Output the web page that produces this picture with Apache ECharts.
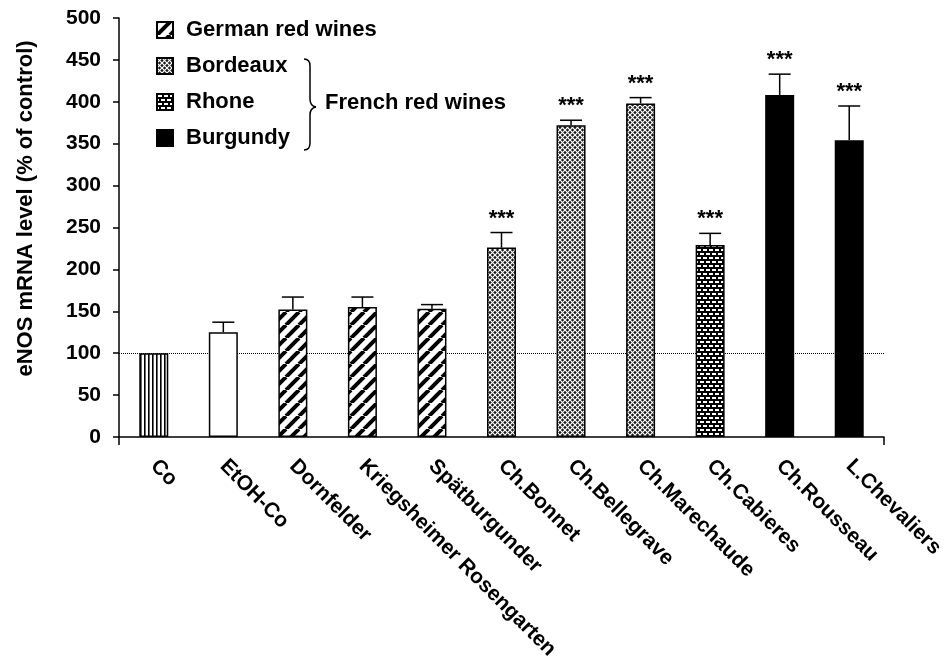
<!DOCTYPE html>
<html>
<head>
<meta charset="utf-8">
<script src="https://cdn.jsdelivr.net/npm/echarts@6/dist/echarts.min.js"></script>
<style>
  html, body { margin: 0; padding: 0; background: #fff; }
  #main { width: 951px; height: 664px; }
</style>
</head>
<body>
<div id="main"></div>
<script>
// data
var categories = ['Co', 'EtOH-Co', 'Dornfelder', 'Kriegsheimer Rosengarten', 'Spätburgunder',
  'Ch.Bonnet', 'Ch.Bellegrave', 'Ch.Marechaude', 'Ch.Cabieres', 'Ch.Rousseau', 'L.Chevaliers'];
var means = [100, 125, 152, 155, 153, 226, 372, 398, 229, 408, 354];
var upper = [100, 137, 167, 167, 158, 244, 378, 405, 243, 433, 395];
var stars = ['', '', '', '', '', '***', '***', '***', '***', '***', '***'];
var groups = ['Control', 'Ethanol', 'German red wines', 'German red wines', 'German red wines',
  'Bordeaux', 'Bordeaux', 'Bordeaux', 'Rhone', 'Burgundy', 'Burgundy'];
var legendNames = ['German red wines', 'Bordeaux', 'Rhone', 'Burgundy'];
var yTicks = { min: 0, max: 500, interval: 50 };

var FONT = '"Liberation Sans", Arial, Helvetica, sans-serif';

// fill patterns
function makePattern(w, h, draw) {
    var c = document.createElement('canvas');
    c.width = w; c.height = h;
    draw(c.getContext('2d'), w, h);
    return { image: c, repeat: 'repeat' };
}
var fills = {
    'Control': makePattern(4, 4, function (ctx, w, h) {
        ctx.fillStyle = '#fff'; ctx.fillRect(0, 0, w, h);
        ctx.fillStyle = '#000'; ctx.fillRect(0, 0, 1.6, h);
    }),
    'Ethanol': '#fff',
    'German red wines': makePattern(13, 13, function (ctx, w, h) {
        ctx.fillStyle = '#fff'; ctx.fillRect(0, 0, w, h);
        ctx.strokeStyle = '#000'; ctx.lineWidth = 4;
        for (var k = -1; k <= 1; k++) {
            ctx.beginPath(); ctx.moveTo(k * w, h); ctx.lineTo(k * w + w, 0); ctx.stroke();
        }
    }),
    'Bordeaux': makePattern(5, 5, function (ctx, w, h) {
        ctx.fillStyle = '#1a1a1a'; ctx.fillRect(0, 0, w, h);
        ctx.strokeStyle = '#fff'; ctx.lineWidth = 1.2;
        ctx.beginPath(); ctx.moveTo(0, 0); ctx.lineTo(w, h); ctx.stroke();
        ctx.beginPath(); ctx.moveTo(w, 0); ctx.lineTo(0, h); ctx.stroke();
    }),
    'Rhone': makePattern(12, 8, function (ctx, w, h) {
        ctx.fillStyle = '#000'; ctx.fillRect(0, 0, w, h);
        ctx.fillStyle = '#fff';
        ctx.fillRect(1, 1, 4, 2); ctx.fillRect(7, 1, 4, 2);
        ctx.fillRect(4, 5, 4, 2); ctx.fillRect(10, 5, 4, 2); ctx.fillRect(-2, 5, 4, 2);
    }),
    'Burgundy': '#000'
};

var seriesNames = ['Control', 'Ethanol'].concat(legendNames);
var barSeries = seriesNames.map(function (name, si) {
    var s = {
        name: name,
        type: 'bar',
        stack: 'all',
        barWidth: 29,
        data: categories.map(function (c, i) { return groups[i] === name ? means[i] : '-'; }),
        itemStyle: { color: fills[name], borderColor: '#000', borderWidth: 1.5 },
        emphasis: { disabled: true }
    };
    if (si === 0) {
        s.markLine = {
            silent: true, symbol: 'none', z: 1,
            label: { show: false },
            lineStyle: { type: 'dotted', color: '#000', width: 1 },
            data: [{ yAxis: 100 }]
        };
    }
    return s;
});

var errSeries = {
    type: 'custom',
    name: 'sem',
    z: 3,
    data: categories.map(function (c, i) { return [i, means[i], upper[i]]; }),
    renderItem: function (params, api) {
        var top = api.coord([api.value(0), api.value(2)]);
        var base = api.coord([api.value(0), api.value(1)]);
        var children = [];
        if (top[1] < base[1] - 1) {
            children.push({ type: 'line', shape: { x1: top[0], y1: base[1], x2: top[0], y2: top[1] },
                style: { stroke: '#000', lineWidth: 1.5 } });
            children.push({ type: 'line', shape: { x1: top[0] - 11, y1: top[1], x2: top[0] + 11, y2: top[1] },
                style: { stroke: '#000', lineWidth: 1.5 } });
        }
        var s = stars[params.dataIndex];
        if (s) {
            children.push({ type: 'text', x: top[0], y: top[1] - 14,
                style: { text: s, fill: '#000', font: 'bold 22px ' + FONT, align: 'center', verticalAlign: 'middle' } });
        }
        return { type: 'group', children: children };
    }
};

var braceStyle = { fill: 'none', stroke: '#000', lineWidth: 1.5 };

var myChart = echarts.init(document.getElementById('main'));
var option = {
    animation: false,
    textStyle: { fontFamily: FONT },
    grid: { left: 119, right: 67, top: 18, bottom: 227, containLabel: false, outerBoundsMode: 'none' },
    legend: {
        data: legendNames,
        orient: 'vertical',
        left: 151, top: 14,
        icon: 'rect',
        itemWidth: 16, itemHeight: 16,
        itemGap: 14,
        selectedMode: false,
        textStyle: { fontSize: 22, fontWeight: 'bold', color: '#000', padding: [0, 0, 0, 8], lineHeight: 22 }
    },
    xAxis: {
        type: 'category',
        data: categories,
        axisLine: { lineStyle: { color: '#000', width: 1.5 } },
        axisTick: { show: true, interval: function (i) { return i === 0; }, length: 8, lineStyle: { color: '#000', width: 1.5 } },
        axisLabel: { interval: 0, rotate: -45, margin: 26, color: '#000', fontSize: 21, fontWeight: 'bold' }
    },
    yAxis: {
        type: 'value',
        min: yTicks.min, max: yTicks.max, interval: yTicks.interval,
        name: 'eNOS mRNA level (% of control)',
        nameLocation: 'middle',
        nameGap: 82,
        nameTextStyle: { fontSize: 22, fontWeight: 'bold', color: '#000', padding: [0, 0, 0, 38] },
        axisLine: { show: true, lineStyle: { color: '#000', width: 1.5 } },
        axisTick: { show: true, length: 6, lineStyle: { color: '#000', width: 1.5 } },
        splitLine: { show: false },
        axisLabel: { margin: 18, color: '#000', fontSize: 21, fontWeight: 'bold' }
    },
    graphic: [
        { type: 'bezierCurve', shape: { x1: 304, y1: 59, cpx1: 310, cpy1: 59, x2: 310, y2: 66 }, style: braceStyle },
        { type: 'line', shape: { x1: 310, y1: 66, x2: 310, y2: 99 }, style: braceStyle },
        { type: 'bezierCurve', shape: { x1: 310, y1: 99, cpx1: 310, cpy1: 106, x2: 316, y2: 107 }, style: braceStyle },
        { type: 'bezierCurve', shape: { x1: 316, y1: 107, cpx1: 310, cpy1: 108, x2: 310, y2: 115 }, style: braceStyle },
        { type: 'line', shape: { x1: 310, y1: 115, x2: 310, y2: 143 }, style: braceStyle },
        { type: 'bezierCurve', shape: { x1: 310, y1: 143, cpx1: 310, cpy1: 150, x2: 304, y2: 150 }, style: braceStyle },
        {
            type: 'text', left: 325, top: 92,
            style: { text: 'French red wines', font: 'bold 22px ' + FONT, fill: '#000' }
        }
    ],
    series: barSeries.concat([errSeries])
};
myChart.setOption(option);
window.addEventListener('resize', function () {
    myChart.resize();
});
</script>
</body>
</html>
